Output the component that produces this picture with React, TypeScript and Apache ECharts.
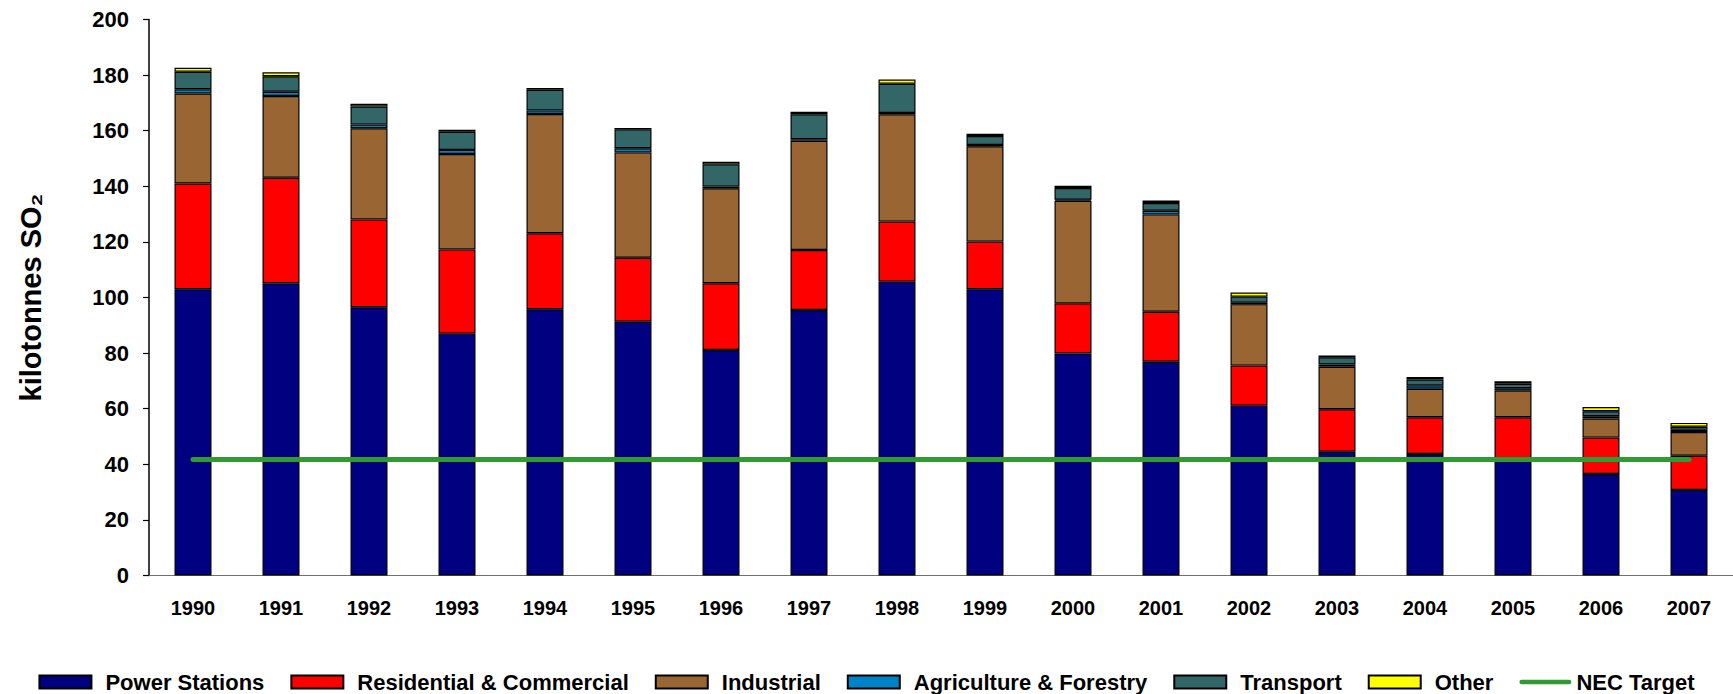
import React, { useEffect, useRef } from "react";
import * as echarts from "echarts";

const years = ["1990","1991","1992","1993","1994","1995","1996","1997","1998","1999","2000","2001","2002","2003","2004","2005","2006","2007"];
const powerStations = [103, 105.1, 96.5, 87, 95.8, 91.3, 81.1, 95.5, 105.7, 103, 79.9, 76.9, 61.1, 44.5, 43.7, 41.5, 36.5, 30.8];
const residential = [38, 38, 31.6, 30.3, 27.3, 23, 24, 21.6, 21.6, 17.1, 18, 18, 14.4, 15.3, 13.2, 15.4, 13.1, 12.3];
const industrial = [32.4, 29.4, 32.8, 34.3, 42.9, 37.9, 34.2, 39.3, 38.6, 34.3, 36.9, 35, 22.1, 15.3, 10.3, 9.6, 6.9, 8.5];
const agriculture = [1.5, 1.5, 1.3, 1.5, 1.3, 1.5, 0.6, 0.5, 0.5, 0.5, 0.4, 1.3, 0.5, 0.8, 1.2, 0.9, 0.8, 0.8];
const transport = [6.3, 5.6, 6.5, 6.5, 7.4, 6.8, 8.0, 9.0, 10.5, 3.2, 4.2, 2.8, 2.2, 2.6, 2.1, 1.6, 1.8, 1.1];
const other = [1.4, 1.4, 1.0, 0.7, 0.7, 0.5, 0.9, 0.9, 1.5, 0.8, 0.8, 0.9, 1.5, 0.6, 0.9, 0.9, 1.5, 1.4];
const necTarget = [41.7, 41.7, 41.7, 41.7, 41.7, 41.7, 41.7, 41.7, 41.7, 41.7, 41.7, 41.7, 41.7, 41.7, 41.7, 41.7, 41.7, 41.7];

const barSeries = [
  { name: "Power Stations", data: powerStations, color: "#000080" },
  { name: "Residential & Commercial", data: residential, color: "#FF0000" },
  { name: "Industrial", data: industrial, color: "#996633" },
  { name: "Agriculture & Forestry", data: agriculture, color: "#0082C6" },
  { name: "Transport", data: transport, color: "#336666" },
  { name: "Other", data: other, color: "#FFFF00" },
];

const FONT = "'Liberation Sans', Arial, Helvetica, sans-serif";
const LINE_ICON = "path://M0,0 M57,13 M2.5,4 H54.5 A2.5,2.5 0 0 1 54.5,9 H2.5 A2.5,2.5 0 0 1 2.5,4 Z";

export default function App() {
  const ref = useRef<HTMLDivElement>(null);
  useEffect(() => {
    if (!ref.current) return;
    const chart = echarts.init(ref.current, null, { renderer: "svg" });
    const series: any[] = barSeries.map((s) => ({
      name: s.name,
      type: "bar",
      stack: "total",
      barWidth: 37,
      data: s.data,
      itemStyle: { color: s.color, borderColor: "#000", borderWidth: 1.2 },
    }));
    series.push({
      name: "NEC Target",
      type: "line",
      data: necTarget,
      symbol: "none",
      showSymbol: false,
      z: 10,
      lineStyle: { color: "#339933", width: 5, cap: "round" },
      itemStyle: { color: "#339933" },
    });
    chart.setOption({
      animation: false,
      backgroundColor: "#fff",
      textStyle: { fontFamily: FONT },
      grid: { left: 149, top: 19.5, width: 1586, height: 556, containLabel: false },
      legend: {
        top: 671,
        left: "center",
        padding: 0,
        itemWidth: 52,
        itemHeight: 13,
        itemGap: 26,
        textStyle: { fontSize: 22, fontWeight: "bold", color: "#000", fontFamily: FONT, padding: [0, 0, 0, 9] },
        data: [
          { name: "Power Stations", icon: "rect" },
          { name: "Residential & Commercial", icon: "rect" },
          { name: "Industrial", icon: "rect" },
          { name: "Agriculture & Forestry", icon: "rect" },
          { name: "Transport", icon: "rect" },
          { name: "Other", icon: "rect" },
          {
            name: "NEC Target",
            icon: LINE_ICON,
            itemStyle: { color: "#339933", borderWidth: 0 },
            lineStyle: { width: 0 },
            textStyle: { padding: [0, 0, 0, 0] },
          },
        ],
      },
      xAxis: {
        type: "category",
        data: years,
        axisLine: { lineStyle: { color: "#707070", width: 1.2 } },
        axisTick: { length: 6, lineStyle: { color: "#707070" } },
        axisLabel: { fontSize: 20, fontWeight: "bold", color: "#000", margin: 22, fontFamily: FONT },
      },
      yAxis: {
        type: "value",
        min: 0,
        max: 200,
        interval: 20,
        name: "kilotonnes SO₂",
        nameLocation: "middle",
        nameGap: 104,
        nameTextStyle: { fontSize: 29, fontWeight: "bold", color: "#000", fontFamily: FONT },
        axisLine: { show: true, lineStyle: { color: "#000", width: 1.5 } },
        axisTick: { show: true, length: 6, lineStyle: { color: "#000", width: 1.2 } },
        axisLabel: { fontSize: 22, fontWeight: "bold", color: "#000", margin: 20, fontFamily: FONT },
        splitLine: { show: false },
      },
      series,
    });
    return () => chart.dispose();
  }, []);
  return (
    <div
      ref={ref}
      style={{ position: "fixed", left: 0, top: 0, width: 1733, height: 694, background: "#fff" }}
    />
  );
}
